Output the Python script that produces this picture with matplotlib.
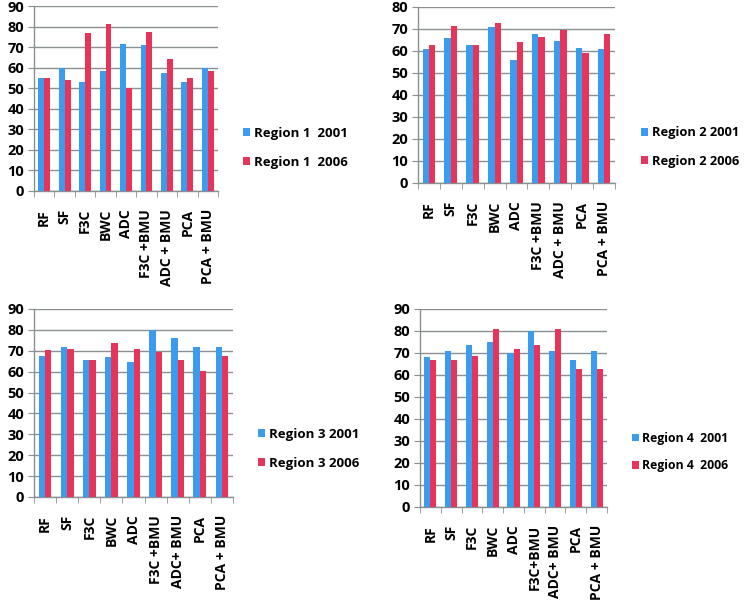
import matplotlib
matplotlib.use("Agg")
import matplotlib.pyplot as plt
import numpy as np

categories = ["RF", "SF", "F3C", "BWC", "ADC", "F3C +BMU", "ADC + BMU", "PCA", "PCA + BMU"]
categories3 = ["RF", "SF", "F3C", "BWC", "ADC", "F3C +BMU", "ADC+ BMU", "PCA", "PCA + BMU"]
categories4 = ["RF", "SF", "F3C", "BWC", "ADC", "F3C+BMU", "ADC+ BMU", "PCA", "PCA + BMU"]

r1_2001 = [55, 60, 53, 58.3, 71.5, 70.8, 57.6, 53, 59.8]
r1_2006 = [55, 53.9, 76.8, 81.3, 50, 77.5, 64.2, 55, 58.3]
r2_2001 = [60.8, 65.8, 62.7, 70.7, 55.8, 67.6, 64.6, 61.2, 60.8]
r2_2006 = [62.6, 71.5, 62.6, 72.7, 63.9, 66.4, 69.7, 58.9, 67.7]
r3_2001 = [67.3, 71.9, 65.7, 66.8, 64.4, 80, 75.9, 71.9, 71.9]
r3_2006 = [70.4, 70.8, 65.7, 73.6, 70.8, 69.2, 65.7, 60.2, 67.3]
r4_2001 = [68, 70.8, 73.7, 74.8, 70, 80, 70.8, 66.9, 70.8]
r4_2006 = [66.9, 66.9, 68.7, 80.9, 71.9, 73.7, 80.9, 62.6, 62.6]

labels1 = ["Region 1  2001", "Region 1  2006"]
labels2 = ["Region 2 2001", "Region 2 2006"]
labels3 = ["Region 3 2001", "Region 3 2006"]
labels4 = ["Region 4  2001", "Region 4  2006"]

BLUE = "#3a9bef"
RED = "#e6345a"
GRID = "#8a8f92"
FONT = "Open Sans"

W, H = 747, 601
fig = plt.figure(figsize=(W / 100, H / 100), dpi=100)


def ax_rect(x0, y0, x1, y1):
    return [x0 / W, 1 - y1 / H, (x1 - x0) / W, (y1 - y0) / H]


panels = [
    (ax_rect(34, 6, 218, 191), r1_2001, r1_2006, categories, labels1, 90, (243, 148), 9.5),
    (ax_rect(418, 7, 615, 183), r2_2001, r2_2006, categories, labels2, 80, (641, 147), 9.3),
    (ax_rect(34, 309, 233, 497), r3_2001, r3_2006, categories3, labels3, 90, (258, 449), 9.5),
    (ax_rect(420, 309, 607, 507), r4_2001, r4_2006, categories4, labels4, 90, (632, 452), 8.8),
]

bw = 0.29
for rect, a, b, cats, labs, ymax, legpos, lsize in panels:
    ax = fig.add_axes(rect)
    x = np.arange(len(cats))
    h1 = ax.bar(x - bw / 2, a, width=bw, color=BLUE, zorder=3, label=labs[0])
    h2 = ax.bar(x + bw / 2, b, width=bw, color=RED, zorder=3, label=labs[1])
    ax.set_xlim(-0.5, len(cats) - 0.5)
    ax.set_ylim(0, ymax)
    ax.set_yticks(np.arange(0, ymax + 1, 10))
    ax.yaxis.grid(True, color=GRID, linewidth=1.0, zorder=0)
    ax.set_axisbelow(True)
    for s in ["top", "right"]:
        ax.spines[s].set_visible(False)
    for s in ["left", "bottom"]:
        ax.spines[s].set_color(GRID)
        ax.spines[s].set_linewidth(1.0)
    ax.set_xticks(x)
    ax.set_xticklabels(cats, rotation=90, fontsize=10, fontweight="bold", family=FONT)
    ax.set_xticks(np.arange(-0.5, len(cats)), minor=True)
    ax.tick_params(axis="x", which="major", length=0, pad=13)
    ax.tick_params(axis="x", which="minor", length=4, color=GRID, direction="out")
    ax.tick_params(axis="y", length=4, color=GRID, pad=3)
    for t in ax.get_yticklabels():
        t.set_fontsize(10.5)
        t.set_fontweight("bold")
        t.set_family(FONT)
    fig.legend(handles=[h1, h2], labels=labs,
               loc="center left", bbox_to_anchor=(legpos[0] / W, 1 - legpos[1] / H),
               frameon=False, handlelength=0.55, handleheight=0.55, handletextpad=0.3,
               labelspacing=1.2, borderpad=0, borderaxespad=0,
               prop={"family": FONT, "weight": "bold", "size": lsize})

fig.savefig("out.png", dpi=100)
